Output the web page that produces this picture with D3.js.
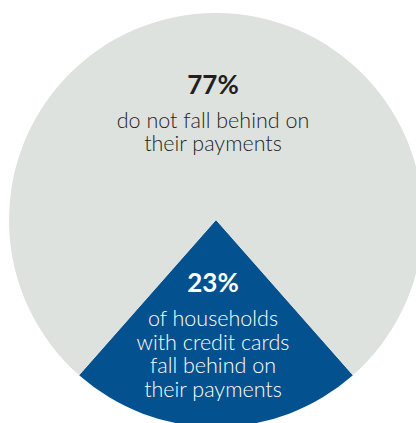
<!DOCTYPE html>
<html>
<head>
<meta charset="utf-8">
<script src="https://cdn.jsdelivr.net/npm/d3@7"></script>
<style>
  html, body { margin: 0; padding: 0; background: #ffffff; }
  svg { display: block; }
</style>
</head>
<body>
<svg id="chart" width="416" height="423"></svg>
<script>
// Share of households with credit cards, by payment status
const categories = ["fall behind", "do not fall behind"];
const shares = [23, 77];
const shareLabels = ["23%", "77%"];
const captions = [
  ["of households", "with credit cards", "fall behind on", "their payments"],
  ["do not fall behind on", "their payments"]
];
const colors = ["#03518f", "#dee2df"];
const textColors = ["#ffffff", "#231f20"];

const svg = d3.select("#chart");
const cx = 216, cy = 220, radius = 207;

// Put the smaller slice centred at the bottom of the circle
const half = Math.PI * shares[0] / 100;
const pie = d3.pie().sort(null).value(d => d)
  .startAngle(Math.PI - half)
  .endAngle(Math.PI - half + 2 * Math.PI);
const arc = d3.arc().innerRadius(0).outerRadius(radius);

const g = svg.append("g").attr("transform", `translate(${cx},${cy})`);

g.selectAll("path.slice")
  .data(pie(shares))
  .join("path")
  .attr("class", "slice")
  .attr("d", arc)
  .attr("fill", (d, i) => colors[i]);

const font = "Lato, 'Open Sans', sans-serif";

// Label blocks, offsets relative to the centre
const blocks = [
  { dx: -3, pctY: 72, capY: 105.7, step: 23.8 },
  { dx: -3, pctY: -126, capY: -92.5, step: 23.5 }
];

blocks.forEach((b, i) => {
  const t = g.append("g").attr("fill", textColors[i]).attr("text-anchor", "middle");
  t.append("text")
    .attr("x", b.dx).attr("y", b.pctY)
    .attr("font-family", font)
    .attr("font-weight", 700)
    .attr("font-size", 26)
    .text(shareLabels[i]);
  t.selectAll("text.cap")
    .data(captions[i])
    .join("text")
    .attr("class", "cap")
    .attr("x", b.dx)
    .attr("y", (d, j) => b.capY + j * b.step)
    .attr("font-family", font)
    .attr("font-weight", 300)
    .attr("font-size", 21.5)
    .text(d => d);
});
</script>
</body>
</html>
